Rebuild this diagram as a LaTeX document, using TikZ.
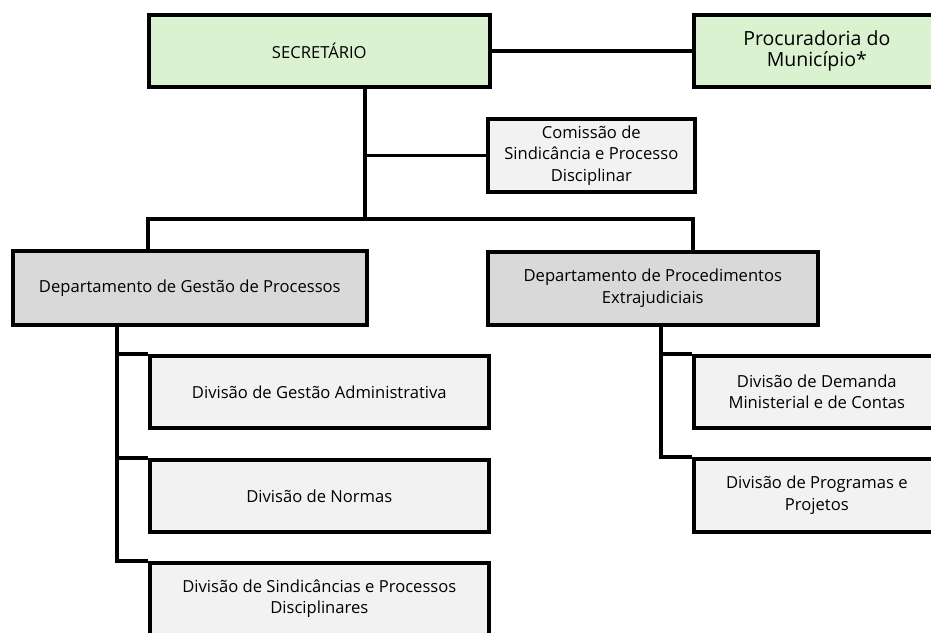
\documentclass[tikz,border=0pt]{standalone}
\usepackage{fontspec}
\setmainfont{Open Sans}

\definecolor{verde}{RGB}{218,242,208}
\definecolor{cinza}{RGB}{217,217,217}
\definecolor{cinzaclaro}{RGB}{242,242,242}

\begin{document}
\begin{tikzpicture}[x=1pt, y=-1pt,
    caixa/.style={draw=black, line width=3.6pt, anchor=north west, align=center,
        inner sep=0pt, font=\fontsize{16.6}{21.5}\selectfont},
    chefia/.style={caixa, fill=verde},
    depto/.style={caixa, fill=cinza},
    divisao/.style={caixa, fill=cinzaclaro},
    ligacao/.style={draw=black, line width=3.6pt}]
        \useasboundingbox (0,0) rectangle (931,632);
        \clip (0,0) rectangle (931,632);

        % topo
        \node[chefia, minimum width=341pt, minimum height=72pt] (sec) at (147,13) {SECRETÁRIO};
        \node[chefia, minimum width=246pt, minimum height=72pt,
              font=\fontsize{19.5}{21.5}\selectfont] (proc) at (692,13) {Procuradoria do\\Município*};
        \node[divisao, minimum width=207pt, minimum height=73pt] (com) at (486,117)
              {Comissão de\\Sindicância e Processo\\Disciplinar};

        % departamentos
        \node[depto, minimum width=354pt, minimum height=74pt] (dgp) at (11,249)
              {Departamento de Gestão de Processos};
        \node[depto, minimum width=330pt, minimum height=73pt] (dpe) at (486,250)
              {Departamento de Procedimentos\\Extrajudiciais};

        % divisoes
        \node[divisao, minimum width=339pt, minimum height=72pt] (dga) at (148,354)
              {Divisão de Gestão Administrativa};
        \node[divisao, minimum width=339pt, minimum height=72pt] (dn) at (148,458)
              {Divisão de Normas};
        \node[divisao, minimum width=339pt, minimum height=72pt] (dsp) at (148,561)
              {Divisão de Sindicâncias e Processos\\Disciplinares};
        \node[divisao, minimum width=246pt, minimum height=72pt] (ddm) at (692,354)
              {Divisão de Demanda\\Ministerial e de Contas};
        \node[divisao, minimum width=246pt, minimum height=73pt] (dpp) at (692,457)
              {Divisão de Programas e\\Projetos};

        \coordinate (bus) at (365,219);
        \coordinate (busL) at (148,219);
        \coordinate (busR) at (693,219);
        \coordinate (espL) at (117,0);
        \coordinate (espR) at (661,0);

        \draw[ligacao] (sec.east) -- (proc.west);
        \draw[ligacao] (sec.south -| bus) -- (bus);
        \draw[ligacao] (com.west) -- (com.west -| bus);
        \draw[ligacao] (busL |- dgp.north) -- (busL) -- (busR) -- (busR |- dpe.north);

        \draw[ligacao] (espL |- dgp.south) |- (dsp.north west);
        \draw[ligacao] (espL |- dga.north) -- (dga.north west);
        \draw[ligacao] (espL |- dn.north) -- (dn.north west);

        \draw[ligacao] (espR |- dpe.south) |- (dpp.north west);
        \draw[ligacao] (espR |- ddm.north) -- (ddm.north west);
    \end{tikzpicture}
\end{document}
